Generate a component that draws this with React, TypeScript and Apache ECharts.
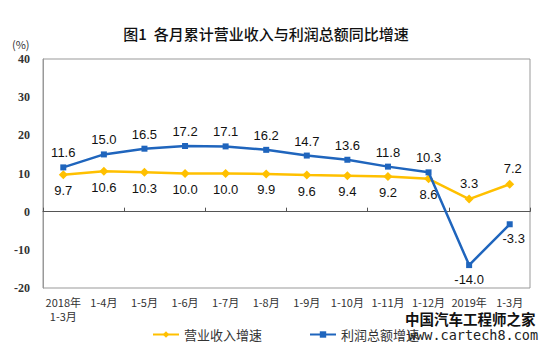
import React, { useEffect, useRef } from "react";
import * as echarts from "echarts";

const categories = [
  "2018年\n1-3月", "1-4月", "1-5月", "1-6月", "1-7月", "1-8月",
  "1-9月", "1-10月", "1-11月", "1-12月", "2019年\n1-2月", "1-3月",
];
const revenueGrowth = [9.7, 10.6, 10.3, 10.0, 10.0, 9.9, 9.6, 9.4, 9.2, 8.6, 3.3, 7.2];
const profitGrowth = [11.6, 15.0, 16.5, 17.2, 17.1, 16.2, 14.7, 13.6, 11.8, 10.3, -14.0, -3.3];
const seriesNames = ["营业收入增速", "利润总额增速"];
const titleText = "图1  各月累计营业收入与利润总额同比增速";

const CJK = "'Noto Sans CJK SC', 'Noto Sans', sans-serif";

export default function App() {
  const ref = useRef<HTMLDivElement>(null);
  useEffect(() => {
    if (!ref.current) return;
    const chart = echarts.init(ref.current, null, { renderer: "svg" });
    const labelFont = {
      fontFamily: "'Liberation Sans', Arial, sans-serif",
      fontSize: 13,
      color: "#111",
    };
    chart.setOption({
      animation: false,
      backgroundColor: "#fff",
      title: {
        text: titleText,
        left: 261,
        textAlign: "center",
        top: 21,
        textStyle: { fontFamily: CJK, fontSize: 15, fontWeight: 500, color: "#111" },
      },
      legend: {
        bottom: 5,
        left: 147,
        padding: 5,
        itemGap: 47,
        itemWidth: 26,
        itemHeight: 8,
        textStyle: { fontFamily: CJK, fontSize: 13, color: "#333" },
        data: seriesNames,
      },
      grid: {
        left: 43,
        right: 20,
        top: 59,
        bottom: 63,
        show: true,
        borderColor: "#999",
        borderWidth: 1,
      },
      xAxis: [
        {
          type: "category",
          data: categories,
          position: "bottom",
          axisLine: { show: false, onZero: false },
          axisTick: { show: false },
          axisLabel: {
            interval: 0,
            margin: 7,
            fontFamily: CJK,
            fontSize: 11,
            lineHeight: 14,
            color: "#333",
            verticalAlign: "top",
          },
        },
        {
          type: "category",
          data: categories,
          position: "bottom",
          axisLine: { show: true, onZero: true, lineStyle: { color: "#555", width: 1 } },
          axisTick: { show: true, inside: true, length: 4, lineStyle: { color: "#555" } },
          axisLabel: { show: false },
        },
      ],
      yAxis: {
        type: "value",
        min: -20,
        max: 40,
        interval: 10,
        splitLine: { show: false },
        axisLine: { show: true, lineStyle: { color: "#999" } },
        axisTick: { show: false },
        axisLabel: {
          margin: 13,
          fontFamily: "'Liberation Serif', 'DejaVu Serif', serif",
          fontSize: 12,
          fontWeight: "bold",
          color: "#333",
        },
      },
      graphic: [
        {
          type: "text",
          left: 12,
          top: 38,
          style: { text: "(%)", fontFamily: CJK, fontSize: 11, fill: "#333" },
        },
        {
          type: "text",
          left: 405,
          top: 311,
          z: 100,
          style: {
            text: "中国汽车工程师之家",
            fontFamily: CJK,
            fontSize: 14.5,
            fontWeight: "bold",
            fill: "#111",
            backgroundColor: "#fff",
          },
        },
        {
          type: "text",
          left: 408,
          top: 328,
          z: 100,
          style: {
            text: "www.cartech8.com",
            fontFamily: "'DejaVu Sans Mono', 'Liberation Mono', monospace",
            fontSize: 13.5,
            fill: "#222",
          },
        },
      ],
      series: [
        {
          name: seriesNames[0],
          type: "line",
          data: revenueGrowth.map((v, i) => ({
            value: v,
            label: i >= 10 ? { position: "top", offset: i === 11 ? [3, 0] : [0, 0] } : { position: "bottom" },
          })),
          color: "#FFC000",
          lineStyle: { width: 2.5, color: "#FFC000" },
          symbol: "diamond",
          symbolSize: 9,
          itemStyle: { color: "#FFC000" },
          label: { show: true, formatter: (p: any) => p.value.toFixed(1), ...labelFont },
          z: 3,
        },
        {
          name: seriesNames[1],
          type: "line",
          data: profitGrowth.map((v, i) => ({
            value: v,
            label: i >= 10 ? { position: "bottom", offset: i === 11 ? [4, 0] : [0, 0] } : { position: "top" },
          })),
          color: "#1F65BD",
          lineStyle: { width: 2.5, color: "#1F65BD" },
          symbol: "rect",
          symbolSize: 6,
          itemStyle: { color: "#1F65BD" },
          label: { show: true, formatter: (p: any) => p.value.toFixed(1), ...labelFont },
          z: 4,
        },
      ],
    });
    return () => chart.dispose();
  }, []);
  return <div ref={ref} style={{ width: 550, height: 351, margin: -8 }} />;
}
